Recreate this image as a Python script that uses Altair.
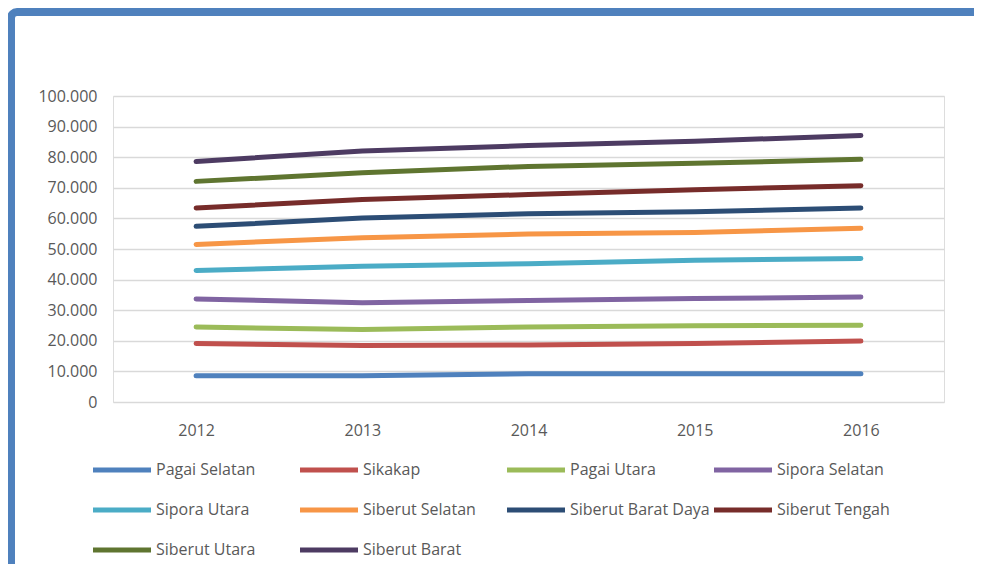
import altair as alt
import pandas as pd

years = ["2012", "2013", "2014", "2015", "2016"]
series = ["Pagai Selatan", "Sikakap", "Pagai Utara", "Sipora Selatan", "Sipora Utara",
          "Siberut Selatan", "Siberut Barat Daya", "Siberut Tengah", "Siberut Utara", "Siberut Barat"]
pagai_selatan = [8600, 8600, 9200, 9200, 9200]
sikakap = [19100, 18500, 18600, 19100, 19900]
pagai_utara = [24500, 23700, 24500, 24900, 25100]
sipora_selatan = [33700, 32400, 33200, 33800, 34300]
sipora_utara = [43000, 44400, 45200, 46300, 46900]
siberut_selatan = [51500, 53700, 54900, 55400, 56800]
siberut_barat_daya = [57400, 60100, 61500, 62200, 63400]
siberut_tengah = [63400, 66200, 67800, 69400, 70700]
siberut_utara = [72100, 74900, 77000, 78000, 79300]
siberut_barat = [78600, 82000, 83800, 85200, 87100]
colors = ["#4F81BD", "#C0504D", "#9BBB59", "#8064A2", "#4BACC6",
          "#F79646", "#2C4D75", "#772C2A", "#5F7530", "#4D3B62"]
y_ticks = [0, 10000, 20000, 30000, 40000, 50000, 60000, 70000, 80000, 90000, 100000]

values = [pagai_selatan, sikakap, pagai_utara, sipora_selatan, sipora_utara,
          siberut_selatan, siberut_barat_daya, siberut_tengah, siberut_utara, siberut_barat]
rows = []
for i, (name, vals) in enumerate(zip(series, values)):
    for y, v in zip(years, vals):
        rows.append({"Kecamatan": name, "Tahun": y, "Nilai": v, "order": i})
df = pd.DataFrame(rows)

W, H = 831, 306
FONT = "Open Sans"
TXT = "#595959"

lines = alt.Chart(df).mark_line(strokeWidth=5, strokeCap="round", strokeJoin="round").encode(
    x=alt.X("Tahun:O", sort=years,
            scale=alt.Scale(type="point", padding=0.5),
            axis=alt.Axis(title=None, labelAngle=0, domain=False, ticks=False, grid=False,
                          labelPadding=20, labelFont=FONT, labelFontSize=16, labelColor=TXT)),
    y=alt.Y("Nilai:Q", scale=alt.Scale(domain=[0, 100000], nice=False),
            axis=alt.Axis(title=None, values=y_ticks, domain=False, ticks=False,
                          grid=True, gridColor="#D9D9D9", gridWidth=1.5,
                          labelPadding=16, labelFont=FONT, labelFontSize=16, labelColor=TXT,
                          labelExpr="replace(format(datum.value, ','), ',', '.')")),
    color=alt.Color("Kecamatan:N", sort=series,
                    scale=alt.Scale(domain=series, range=colors),
                    legend=alt.Legend(title=None, orient="none", direction="horizontal",
                                      legendX=-8, legendY=357,
                                      columns=4, gridAlign="all", columnPadding=-6, rowPadding=13,
                                      symbolType="M-2,0H2", symbolSize=841, symbolStrokeWidth=5,
                                      labelFont=FONT, labelFontSize=16, labelColor=TXT,
                                      labelOffset=17, padding=0)),
    order=alt.Order("order:Q"),
    detail="Kecamatan:N",
)

frame = alt.Chart(alt.Data(values=[{}])).mark_rect(
    fillOpacity=0, stroke="#4F81BD", strokeWidth=8, cornerRadius=6
).encode(
    x=alt.value(-102), x2=alt.value(W + 300),
    y=alt.value(-84), y2=alt.value(H + 400),
)

chart = alt.layer(lines, frame).properties(
    width=W, height=H,
    autosize=alt.AutoSizeParams(type="none"),
    padding={"left": 105, "top": 88, "right": 30, "bottom": 162},
).configure_view(strokeWidth=0, strokeOpacity=0).configure(background="white")

chart.save("out.html", embed_options={"renderer": "svg", "actions": False})
